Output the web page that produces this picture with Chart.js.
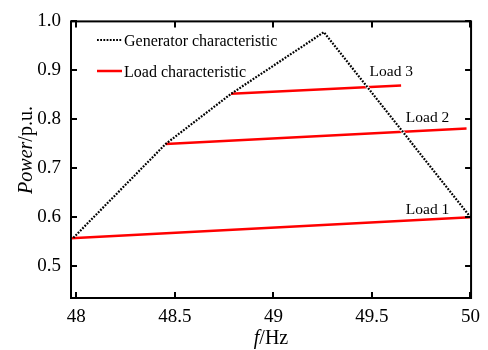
<!DOCTYPE html>
<html><head><meta charset="utf-8">
<script src="https://cdn.jsdelivr.net/npm/chart.js@4"></script>
<style>html,body{margin:0;padding:0;background:#fff}</style>
</head><body>
<canvas id="c" width="488" height="350"></canvas>
<script>
const xTicks = [48, 48.5, 49, 49.5, 50];
const yTicks = [0.5, 0.6, 0.7, 0.8, 0.9, 1.0];
const genF = [47.985, 48.453, 48.785, 49.256, 50];
const genP = [0.558, 0.7495, 0.852, 0.978, 0.6];
const load1F = [47.973, 50];
const load1P = [0.557, 0.6];
const load2F = [48.453, 49.98];
const load2P = [0.7495, 0.781];
const load3F = [48.785, 49.648];
const load3P = [0.852, 0.869];
const loadLabels = ["Load 1", "Load 2", "Load 3"];
const labelF = [49.672, 49.672, 49.488];
const labelP = [0.6058, 0.7946, 0.8887];
const legendNames = ["Generator characteristic", "Load characteristic"];

const SERIF = '"Liberation Serif", "Times New Roman", serif';
const pts = (xs, ys) => xs.map((x, i) => ({x: x, y: ys[i]}));

const decor = {
  id: 'decor',
  afterDatasetsDraw(chart) {
    const ctx = chart.ctx, a = chart.chartArea;
    const xs = chart.scales.x, ys = chart.scales.y;
    ctx.save();
    ctx.strokeStyle = '#000'; ctx.lineWidth = 2;
    ctx.strokeRect(a.left, a.top, a.right - a.left, a.bottom - a.top);
    const L = 6;
    ctx.beginPath();
    xTicks.forEach(v => {
      const px = Math.round(xs.getPixelForValue(v));
      ctx.moveTo(px, a.bottom); ctx.lineTo(px, a.bottom - L);
      ctx.moveTo(px, a.top); ctx.lineTo(px, a.top + L);
    });
    yTicks.forEach(v => {
      const py = Math.round(ys.getPixelForValue(v));
      ctx.moveTo(a.left, py); ctx.lineTo(a.left + L, py);
      ctx.moveTo(a.right, py); ctx.lineTo(a.right - L, py);
    });
    ctx.stroke();
    ctx.fillStyle = '#000';
    ctx.font = '15.5px ' + SERIF;
    ctx.textAlign = 'left'; ctx.textBaseline = 'alphabetic';
    loadLabels.forEach((t, i) => {
      ctx.fillText(t, xs.getPixelForValue(labelF[i]), ys.getPixelForValue(labelP[i]));
    });
    ctx.font = '16px ' + SERIF;
    ctx.lineWidth = 2.2; ctx.strokeStyle = '#000'; ctx.setLineDash([1.8, 1.4]);
    ctx.beginPath(); ctx.moveTo(97, 40); ctx.lineTo(122, 40); ctx.stroke();
    ctx.setLineDash([]);
    ctx.strokeStyle = '#ff0000'; ctx.lineWidth = 2.5;
    ctx.beginPath(); ctx.moveTo(97, 71); ctx.lineTo(122, 71); ctx.stroke();
    ctx.fillText(legendNames[0], 124, 45.5);
    ctx.fillText(legendNames[1], 124, 76.5);
    ctx.font = 'italic 20px ' + SERIF;
    const w1 = ctx.measureText('f').width;
    ctx.font = '20px ' + SERIF;
    const w2 = ctx.measureText('/Hz').width;
    let sx = (a.left + a.right) / 2 - (w1 + w2) / 2;
    ctx.font = 'italic 20px ' + SERIF; ctx.fillText('f', sx, 344);
    ctx.font = '20px ' + SERIF; ctx.fillText('/Hz', sx + w1, 344);
    ctx.translate(32, 150);
    ctx.rotate(-Math.PI / 2);
    ctx.font = 'italic 20px ' + SERIF;
    const v1 = ctx.measureText('Power').width;
    ctx.font = '20px ' + SERIF;
    const v2 = ctx.measureText('/p.u.').width;
    const s0 = -(v1 + v2) / 2;
    ctx.font = 'italic 20px ' + SERIF; ctx.fillText('Power', s0, 0);
    ctx.font = '20px ' + SERIF; ctx.fillText('/p.u.', s0 + v1, 0);
    ctx.restore();
  }
};

new Chart(document.getElementById('c'), {
  type: 'scatter',
  data: {
    datasets: [
      {label: legendNames[0], data: pts(genF, genP), showLine: true, borderColor: '#000', borderWidth: 2.2, borderDash: [1.8, 1.4], pointRadius: 0, fill: false},
      {label: 'gap', data: pts(genF.slice(3, 5), genP.slice(3, 5)), showLine: true, borderColor: '#fff', borderWidth: 3, pointRadius: 0, fill: false},
      {label: loadLabels[0], data: pts(load1F, load1P), showLine: true, borderColor: '#ff0000', borderWidth: 2.5, pointRadius: 0},
      {label: loadLabels[1], data: pts(load2F, load2P), showLine: true, borderColor: '#ff0000', borderWidth: 2.5, pointRadius: 0},
      {label: loadLabels[2], data: pts(load3F, load3P), showLine: true, borderColor: '#ff0000', borderWidth: 2.5, pointRadius: 0}
    ]
  },
  options: {
    responsive: false,
    animation: false,
    devicePixelRatio: 1,
    layout: {padding: {left: 0, top: 14, right: 15, bottom: 0}},
    plugins: {legend: {display: false}, tooltip: {enabled: false}},
    scales: {
      x: {
        type: 'linear', min: 47.973, max: 50.003,
        afterBuildTicks: s => { s.ticks = xTicks.map(v => ({value: v})); },
        afterFit: s => { s.height = 52; },
        grid: {display: false, drawTicks: false},
        border: {display: false},
        ticks: {color: '#000', font: {family: SERIF, size: 19}, padding: 8, maxRotation: 0, callback: v => String(v)}
      },
      y: {
        type: 'linear', min: 0.435, max: 1.0,
        afterBuildTicks: s => { s.ticks = yTicks.map(v => ({value: v})); },
        afterFit: s => { s.width = 71; },
        grid: {display: false, drawTicks: false},
        border: {display: false},
        ticks: {color: '#000', font: {family: SERIF, size: 19}, padding: 10, callback: v => v.toFixed(1)}
      }
    }
  },
  plugins: [decor]
});
</script>
</body></html>
